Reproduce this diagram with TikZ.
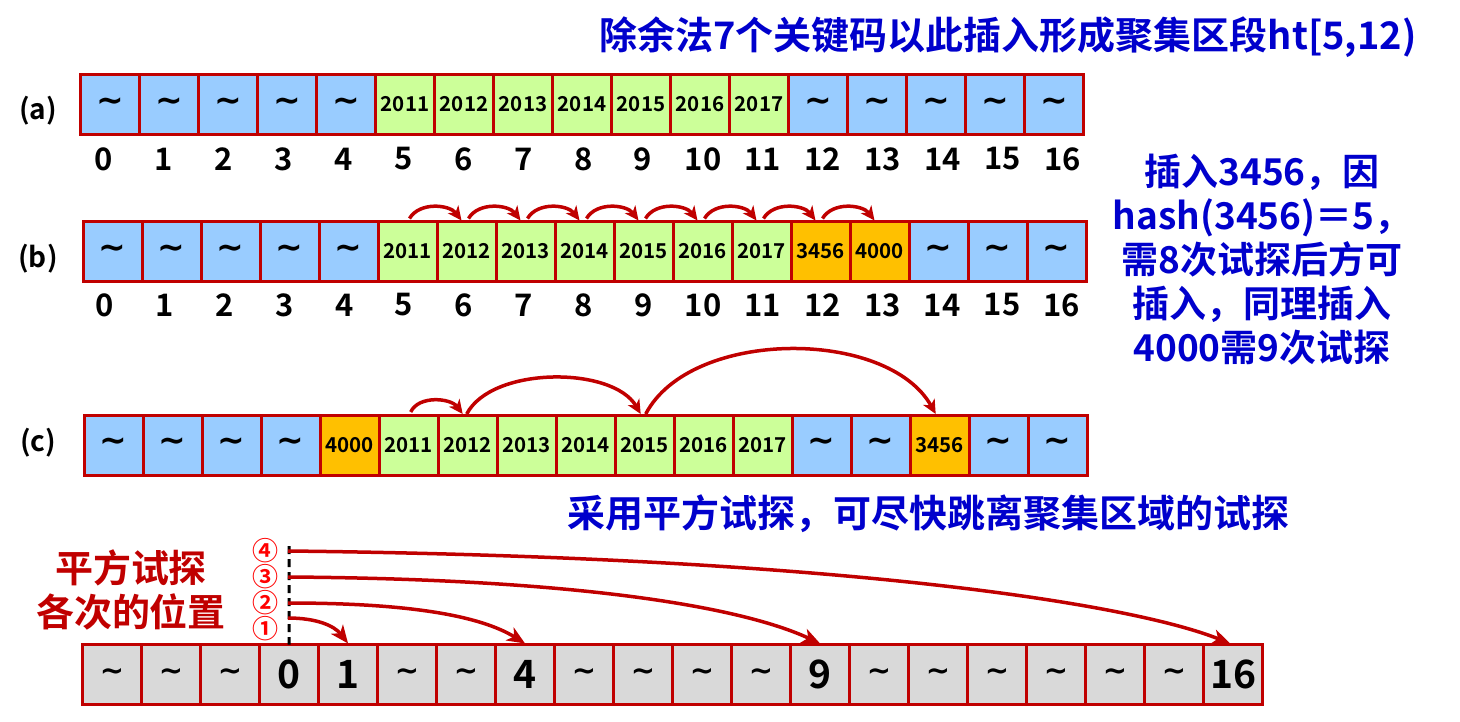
\documentclass[tikz,border=0pt]{standalone}
\usepackage{fontspec}
\setmainfont{Noto Sans CJK SC}[BoldFont={Noto Sans CJK SC Bold}]
\newfontfamily\tildfont{DejaVu Sans}[BoldFont={DejaVu Sans Bold}]
\usetikzlibrary{arrows.meta}
\definecolor{dred}{HTML}{C00000}
\definecolor{lblue}{HTML}{99CCFF}
\definecolor{lgreen}{HTML}{CCFF99}
\definecolor{orng}{HTML}{FFC000}
\definecolor{lgray}{HTML}{D9D9D9}
\definecolor{tblue}{HTML}{0000CC}
\definecolor{cred}{HTML}{FF0000}
\newcommand\tildsym{{\tildfont\bfseries\fontsize{33}{33}\selectfont\char"7E}}
\newcommand\tildsm{{\tildfont\bfseries\fontsize{29}{29}\selectfont\char"7E}}
\begin{document}
\begin{tikzpicture}[x=1pt,y=-1pt,
  cell/.style={draw=dred,line width=3pt,minimum width=59pt,minimum height=60pt,inner sep=0pt,outer sep=0pt,font=\bfseries\fontsize{20.5}{20.5}\selectfont},
  bigcell/.style={cell,fill=lgray,font=\bfseries\fontsize{39}{39}\selectfont},
  idx/.style={font=\bfseries\fontsize{31}{31}\selectfont,inner sep=0pt},
  rowlab/.style={font=\bfseries\fontsize{28}{28}\selectfont,inner sep=0pt},
  btext/.style={text=tblue,font=\bfseries\fontsize{37}{44}\selectfont,align=center,inner sep=0pt},
  rtext/.style={text=dred,font=\bfseries\fontsize{38}{44}\selectfont,align=center,inner sep=0pt},
  circnum/.style={text=cred,font=\bfseries\fontsize{26}{26}\selectfont,inner sep=0pt},
  arr/.style={draw=dred,line width=3.5pt,-{Stealth[length=14pt,width=13pt,inset=4pt]}},
  barr/.style={draw=dred,line width=3.5pt,-{Stealth[length=18pt,width=15pt,inset=5pt]}}]
\useasboundingbox (0,0) rectangle (1460,721);

% title
\node[btext,font=\bfseries\fontsize{38}{44}\selectfont] (title) at (1008,37) {除余法7个关键码以此插入形成聚集区段ht[5,12)};

% row (a)
\node[rowlab] (la) at (38,111) {(a)};
\foreach \f/\t [count=\i from 0] in {lblue/\tildsym,lblue/\tildsym,lblue/\tildsym,lblue/\tildsym,lblue/\tildsym,lgreen/2011,lgreen/2012,lgreen/2013,lgreen/2014,lgreen/2015,lgreen/2016,lgreen/2017,lblue/\tildsym,lblue/\tildsym,lblue/\tildsym,lblue/\tildsym,lblue/\tildsym}
  \node[cell,fill=\f] (a\i) at ({110+59*\i},104.5) {\t};
\foreach \i in {0,...,16}
  \node[idx] (na\i) at ({104+59.9*\i},159) {\i};

% row (b)
\node[rowlab] (lb) at (38,259) {(b)};
\foreach \f/\t [count=\i from 0] in {lblue/\tildsym,lblue/\tildsym,lblue/\tildsym,lblue/\tildsym,lblue/\tildsym,lgreen/2011,lgreen/2012,lgreen/2013,lgreen/2014,lgreen/2015,lgreen/2016,lgreen/2017,orng/3456,orng/4000,lblue/\tildsym,lblue/\tildsym,lblue/\tildsym}
  \node[cell,fill=\f] (b\i) at ({112.5+59*\i},251.5) {\t};
\foreach \i in {0,...,16}
  \node[idx] (nb\i) at ({105+59.8*\i},305) {\i};
\foreach \i [evaluate=\i as \j using int(\i+1)] in {5,...,12}
  \draw[arr] ([xshift=2pt,yshift=3pt]b\i.north) .. controls +(10,-17) and +(-12,-16) .. ([xshift=-5pt,yshift=1pt]b\j.north);

% right explanation
\node[btext] (expl) at (1262,260) {插入3456，因\\hash(3456)＝5，\\需8次试探后方可\\插入，同理插入\\4000需9次试探};

% row (c)
\node[rowlab] (lc) at (38,443) {(c)};
\foreach \f/\t [count=\i from 0] in {lblue/\tildsym,lblue/\tildsym,lblue/\tildsym,lblue/\tildsym,orng/4000,lgreen/2011,lgreen/2012,lgreen/2013,lgreen/2014,lgreen/2015,lgreen/2016,lgreen/2017,lblue/\tildsym,lblue/\tildsym,orng/3456,lblue/\tildsym,lblue/\tildsym}
  \node[cell,fill=\f] (c\i) at ({113.7+59*\i},445) {\t};
\draw[arr] ([xshift=2pt,yshift=3pt]c5.north) .. controls +(8,-17) and +(-12,-16) .. ([xshift=-5pt,yshift=1pt]c6.north);
\draw[arr] ([xshift=-1pt,yshift=1pt]c6.north) .. controls +(25,-48) and +(-28,-48) .. ([xshift=-4pt,yshift=1pt]c9.north);
\draw[arr] ([xshift=1pt,yshift=1pt]c9.north) .. controls +(45,-86) and +(-48,-86) .. ([xshift=-4pt,yshift=1pt]c14.north);

% blue note
\node[btext,font=\bfseries\fontsize{38}{44}\selectfont] (note) at (928,514) {采用平方试探，可尽快跳离聚集区域的试探};

% bottom row
\node[rtext] (pos) at (131,590) {平方试探\\各次的位置};
\foreach \t [count=\i from 0] in {\tildsm,\tildsm,\tildsm,0,1,\tildsm,\tildsm,4,\tildsm,\tildsm,\tildsm,\tildsm,9,\tildsm,\tildsm,\tildsm,\tildsm,\tildsm,\tildsm,16}
  \node[bigcell] (d\i) at ({112.1+59*\i},674.5) {\t};
\coordinate (dtop) at (289,546);
\draw[black,line width=3pt,dash pattern=on 8pt off 5pt] (dtop) -- (d3.north);
\node[circnum] (k4) at (265,551) {④};
\node[circnum] (k3) at (265,577) {③};
\node[circnum] (k2) at (265,603) {②};
\node[circnum] (k1) at (265,629) {①};
\coordinate (s1) at (288,618);
\coordinate (s2) at (288,603);
\coordinate (s3) at (288,577);
\coordinate (s4) at (288,551);
\draw[barr] (s1) .. controls +(28,0) and +(-14,-18) .. ([yshift=1pt]d4.north);
\draw[barr] (s2) .. controls +(120,0) and +(-45,-28) .. ([yshift=1pt]d7.north);
\draw[barr] (s3) .. controls +(300,2) and +(-75,-35) .. ([yshift=1pt]d12.north);
\draw[barr] (s4) .. controls +(550,6) and +(-100,-40) .. ([xshift=-3pt,yshift=1pt]d19.north);
\end{tikzpicture}
\end{document}
